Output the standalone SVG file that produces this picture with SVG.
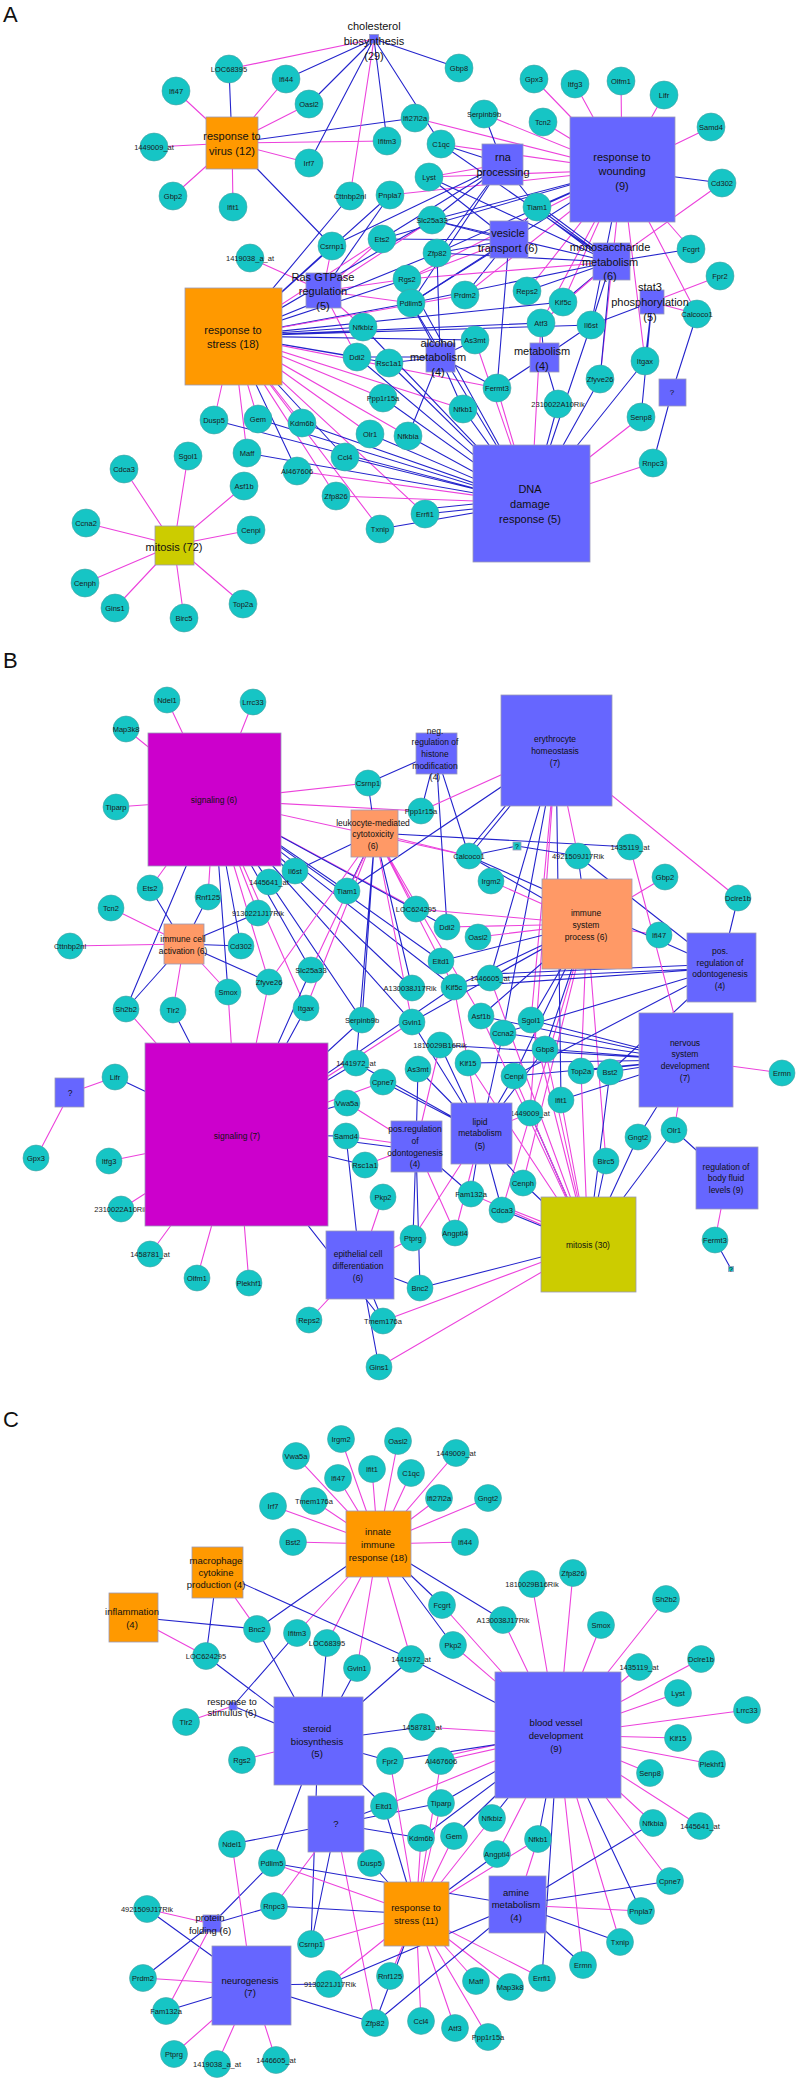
<svg xmlns="http://www.w3.org/2000/svg" width="799" height="2082" viewBox="0 0 799 2082">
<style>
.m{stroke:#ec42dc;stroke-width:1.1;fill:none}
.b{stroke:#2424cc;stroke-width:1.1;fill:none}
.g circle{fill:#16c5c5;stroke:#4aa3a3;stroke-width:.6}
.g text{font-family:"Liberation Sans",Arial,sans-serif;font-size:7.5px;fill:#1a1a1a;text-anchor:middle}
.k rect{stroke:#9a9ab8;stroke-width:.8}
.k text{font-family:"Liberation Sans",Arial,sans-serif;fill:#111;text-anchor:middle}
.pa text{font-size:11px}
.pb text{font-size:8.5px}
.pc text{font-size:9.5px}
.v rect{fill:#6666ff}
.o rect{fill:#ff9900}
.s rect{fill:#ff9966}
.p rect{fill:#cc00cc}
.y rect{fill:#cccc00}
.t rect{fill:#16c5c5}
.lab{font-family:"Liberation Sans",Arial,sans-serif;font-size:22px;fill:#111}
</style>
<rect width="799" height="2082" fill="#fff"/>
<text class="lab" x="3" y="22">A</text>
<text class="lab" x="3" y="668">B</text>
<text class="lab" x="3" y="1427">C</text>
<g id="connectors">
<path class="m" d="M232 143L176 91M232 143L286 79M232 143L309 104M232 143L154 147M232 143L309 163M232 143L173 196M232 143L233 207M232 143L387 141"/>
<path class="b" d="M232 143L229 69M232 143L332 246M232 143L415 118"/>
<path class="m" d="M374 39L229 69M374 39L350 196"/>
<path class="b" d="M374 39L286 79M374 39L309 104M374 39L309 163M374 39L387 141M374 39L459 68M374 39L441 144"/>
<path class="m" d="M622 170L534 79M622 170L575 84M622 170L621 81M622 170L664 95M622 170L711 127M622 170L543 122M622 170L691 249M622 170L415 118M622 170L484 114M622 170L441 144M622 170L429 177M622 170L390 195M622 170L407 279M622 170L527 291M622 170L563 302M622 170L541 323M622 170L645 361M622 170L697 314M622 170L600 379M622 170L465 295"/>
<path class="b" d="M622 170L722 183M622 170L537 207M622 170L432 220M622 170L437 253M622 170L382 239M622 170L591 325M622 170L411 303"/>
<path class="b" d="M503 164L441 144M503 164L484 114M503 164L432 220M503 164L437 253M503 164L332 246M503 164L382 239M503 164L411 303M503 164L537 207"/>
<path class="m" d="M503 164L429 177"/>
<path class="b" d="M509 240L432 220M509 240L437 253M509 240L429 177M509 240L382 239M509 240L411 303M509 240L537 207M509 240L497 388M509 240L465 295"/>
<path class="m" d="M509 240L407 279"/>
<path class="b" d="M611 262L537 207M611 265L537 210M611 259L537 204M611 262L441 144M611 262L429 177M611 262L432 220M611 262L691 249M611 262L563 302M611 262L591 325M611 262L527 291M611 262L437 253M611 262L411 303M611 262L600 379"/>
<path class="m" d="M611 262L407 279M611 262L722 183M611 262L541 323"/>
<path class="m" d="M652 302L720 276M652 302L697 314"/>
<path class="b" d="M652 302L591 325M652 302L641 417M652 302L645 361"/>
<path class="m" d="M323 291L250 258M323 291L332 246M323 291L382 239M323 291L407 279M323 291L411 303M323 291L363 327M323 291L432 220M323 291L357 357"/>
<path class="b" d="M323 291L390 195"/>
<path class="b" d="M233 336L332 246M233 336L350 196M233 336L407 279M233 336L411 303M233 336L437 253M233 336L363 327M233 336L357 357M233 336L389 363M233 336L345 457M233 336L297 471M233 336L475 340M233 336L541 323M233 336L432 220M233 336L390 195M233 336L591 325M233 336L563 302"/>
<path class="m" d="M233 336L382 239M233 336L383 398M233 336L370 434M233 336L214 420M233 336L258 419M233 336L302 423M233 336L247 453M233 336L336 496M233 336L380 529M233 336L408 436M233 336L425 514M233 336L463 409M233 336L497 388M233 336L465 295"/>
<path class="b" d="M440 357L475 340M440 357L463 409M440 357L408 436M440 357L497 388M440 357L389 363M440 357L411 303M440 357L357 357M440 357L437 253"/>
<path class="b" d="M544 357L497 388M544 357L558 404M544 357L541 323M544 357L591 325"/>
<path class="b" d="M531 503L463 409M531 503L408 436M531 503L425 514M531 498L425 509M531 503L558 404M531 503L600 379M531 503L645 361M531 503L591 325M531 503L380 529M531 503L345 457M531 503L370 434M531 503L302 423M531 503L258 419M531 503L247 453M531 503L383 398M531 503L389 363M531 503L357 357M531 503L363 327M531 503L407 279M531 503L411 303M531 503L214 420"/>
<path class="m" d="M531 503L497 388M531 503L641 417M531 503L653 463M531 503L297 471M531 503L336 496M531 503L541 323M531 503L475 340"/>
<path class="m" d="M174 545L188 456M174 545L124 469M174 545L244 486M174 545L86 523M174 545L251 530M174 545L85 583M174 545L115 608M174 545L184 618M174 545L243 604"/>
<path class="b" d="M672 392L697 314M672 392L653 463"/>
<path class="m" d="M214 800L167 700M214 800L253 702M214 800L126 729M214 800L116 807M214 800L368 783M214 800L150 888M214 800L208 897M214 800L269 982M214 800L258 913M214 800L306 1008M214 800L469 856M214 800L416 909M214 800L421 811"/>
<path class="b" d="M214 800L126 1009M214 800L228 992M214 800L241 946M214 800L311 970M214 800L269 882M214 800L295 871M214 800L347 891M214 800L362 1020M214 800L412 988M214 800L447 927M214 800L454 987M214 800L412 1022M214 800L441 961"/>
<path class="b" d="M375 833L347 891M375 833L295 871M375 833L362 1020M375 833L412 988M375 833L630 847M375 833L356 1063M375 833L368 783"/>
<path class="m" d="M375 833L269 982M375 833L311 970M375 833L306 1008M375 833L454 987M375 833L469 856M375 833L416 909M375 833L412 1022M375 833L481 1016"/>
<path class="m" d="M184 944L111 908M184 944L70 946M184 944L228 992M184 944L173 1010"/>
<path class="b" d="M184 944L150 888M184 944L208 897M184 944L258 913M184 944L241 946M184 944L269 982M184 944L126 1009"/>
<path class="b" d="M436 753L421 811M436 753L469 856M436 753L447 927M436 753L368 783"/>
<path class="m" d="M556 750L421 811M556 750L738 898M556 750L578 856M556 750L531 1020M556 750L530 1113"/>
<path class="b" d="M556 750L469 856M552 750L466 853M556 750L347 891M556 750L503 1033M556 750L561 1100M556 750L490 978"/>
<path class="m" d="M587 924L491 881M587 924L447 927M587 924L478 937M587 924L665 877M587 924L659 935M587 924L416 909M587 924L606 1161M587 924L523 1183M587 924L581 1071M587 924L502 1210"/>
<path class="b" d="M587 924L441 961M587 924L454 987M587 924L490 978M587 924L578 856M587 924L469 856M587 924L481 1016M587 924L531 1020M587 924L412 1022M587 924L514 1076M587 924L545 1049"/>
<path class="b" d="M721 968L738 898M721 968L490 978M721 964L490 974M721 968L454 987M721 968L578 856M721 968L469 856M721 968L503 1033M721 968L514 1076M721 968L610 1072"/>
<path class="m" d="M686 1060L782 1073M686 1060L674 1130M686 1060L630 847"/>
<path class="b" d="M686 1060L610 1072M686 1060L581 1071M686 1060L545 1049M686 1060L468 1063M686 1060L561 1100M686 1060L638 1137M686 1060L503 1033M686 1060L514 1076M686 1060L481 1016M686 1060L440 1045M686 1060L531 1020"/>
<path class="b" d="M727 1178L674 1130M715 1240L731 1269"/>
<path class="m" d="M727 1178L715 1240"/>
<path class="b" d="M517 846L469 856M517 846L578 856"/>
<path class="m" d="M481 1133L468 1063M481 1133L455 1233M481 1133L413 1238M481 1133L454 987M481 1133L530 1113"/>
<path class="b" d="M481 1133L418 1069M481 1133L440 1045M481 1133L503 1033M481 1133L514 1076M481 1133L545 1049M481 1133L523 1183M481 1133L471 1194M481 1133L502 1210M481 1133L412 1022M481 1133L356 1063M481 1133L383 1082"/>
<path class="m" d="M416 1146L347 1103M416 1146L346 1136M416 1146L365 1165M416 1146L455 1233M416 1146L440 1045"/>
<path class="b" d="M416 1150L346 1141M416 1146L418 1069M416 1146L471 1194M416 1146L413 1238M416 1146L420 1288"/>
<path class="b" d="M588 1245L523 1183M588 1245L502 1210M588 1245L606 1161M588 1245L638 1137M588 1245L674 1130M588 1245L420 1288M588 1245L530 1113M588 1245L610 1072"/>
<path class="m" d="M588 1240L502 1206M588 1245L561 1100M588 1245L545 1049M588 1245L514 1076M588 1245L581 1071M588 1245L471 1194M588 1245L379 1367M588 1245L481 1016M588 1245L531 1020M588 1245L468 1063M588 1245L490 978M588 1245L383 1321"/>
<path class="b" d="M237 1135L115 1077M237 1135L356 1063M237 1135L347 1103M237 1135L346 1136M237 1135L365 1165M237 1135L383 1321M237 1135L173 1010M237 1135L306 1008M237 1135L362 1020M237 1135L311 970M237 1135L454 987"/>
<path class="m" d="M237 1135L109 1161M237 1135L121 1209M237 1135L150 1254M237 1135L197 1278M237 1135L249 1283M237 1135L383 1082M237 1135L126 1009M237 1135L228 992M237 1135L269 982M237 1135L412 1022"/>
<path class="m" d="M70 1093L115 1077M70 1093L36 1158"/>
<path class="b" d="M360 1265L346 1136M360 1265L383 1321M360 1265L379 1367M360 1265L420 1288"/>
<path class="m" d="M360 1265L383 1197M360 1265L309 1320M360 1265L413 1238"/>
<path class="m" d="M378 1544L341 1439M378 1544L398 1441M378 1544L296 1456M378 1544L372 1469M378 1544L338 1478M378 1544L411 1473M378 1544L314 1501M378 1544L273 1506M378 1544L293 1542M378 1544L456 1453M378 1544L439 1498M378 1544L488 1498M378 1544L465 1542M378 1544L297 1633M378 1544L327 1643M378 1544L357 1668M378 1544L411 1659"/>
<path class="b" d="M378 1544L257 1629M378 1544L503 1620M378 1544L453 1645M378 1544L442 1605"/>
<path class="b" d="M217 1572L411 1659M217 1572L206 1656M133 1617L257 1629M233 1706L297 1633M233 1706L318 1741"/>
<path class="m" d="M217 1572L257 1629M133 1617L206 1656M233 1706L186 1722"/>
<path class="b" d="M318 1741L206 1656M318 1741L257 1629M318 1741L327 1643M318 1741L357 1668M318 1741L411 1659M318 1741L390 1761M318 1741L384 1806M318 1741L422 1727M318 1741L272 1863M318 1741L311 1944"/>
<path class="m" d="M318 1741L242 1760"/>
<path class="m" d="M558 1735L422 1727M558 1735L442 1605M558 1735L453 1645M558 1735L503 1620M558 1735L532 1584M558 1735L573 1573M558 1735L601 1625M558 1735L666 1599M558 1735L639 1667M558 1735L701 1659M558 1735L678 1693M558 1735L747 1710M558 1735L678 1738M558 1735L712 1764M558 1735L650 1773M558 1735L700 1826M558 1735L653 1823M558 1735L670 1881M558 1735L620 1942M558 1735L583 1965M558 1735L497 1854M558 1735L441 1761M558 1731L441 1757M558 1735L384 1806"/>
<path class="b" d="M558 1735L411 1659M558 1735L641 1911M558 1735L542 1978M558 1735L538 1839M558 1735L454 1836M558 1735L421 1838M558 1735L441 1803M558 1735L390 1761M558 1735L492 1818"/>
<path class="b" d="M336 1824L232 1844M336 1824L311 1944M336 1824L384 1806M336 1824L441 1803M336 1824L421 1838"/>
<path class="m" d="M336 1824L274 1906M336 1824L375 2023"/>
<path class="m" d="M416 1914L421 1838M416 1914L454 1836M416 1914L441 1803M416 1914L492 1818M416 1914L538 1839M416 1914L272 1863M416 1914L311 1944M416 1914L329 1984M416 1914L390 1976M416 1914L421 2021M416 1914L455 2028M416 1914L488 2037M416 1914L476 1981M416 1914L510 1987M416 1914L542 1978M416 1914L390 1761M416 1914L441 1761"/>
<path class="b" d="M416 1914L497 1854M416 1914L371 1863M416 1914L274 1906M416 1914L375 2023M416 1914L384 1806"/>
<path class="b" d="M517 1905L653 1823M517 1905L670 1881M517 1905L620 1942M517 1905L583 1965M517 1905L375 2023M517 1905L272 1863M517 1905L329 1984"/>
<path class="m" d="M517 1905L641 1911M517 1905L538 1839"/>
<path class="b" d="M212 1924L272 1863M212 1924L274 1906M212 1924L143 1978M252 1985L147 1909M252 1985L166 2011M252 1985L329 1984M252 1985L375 2023"/>
<path class="m" d="M212 1924L147 1909M212 1924L166 2011M252 1985L232 1844M252 1985L143 1978M252 1985L174 2054M252 1985L217 2064M252 1985L276 2060"/>
</g>
<g id="genesA" class="g">
<g id="a-LOC68395"><circle cx="229" cy="69" r="14"/><text x="229" y="71.7">LOC68395</text></g>
<g id="a-Ifi44"><circle cx="286" cy="79" r="14"/><text x="286" y="81.7">Ifi44</text></g>
<g id="a-Ifi47"><circle cx="176" cy="91" r="14"/><text x="176" y="93.7">Ifi47</text></g>
<g id="a-Oasl2"><circle cx="309" cy="104" r="14"/><text x="309" y="106.7">Oasl2</text></g>
<g id="a-1449009_at"><circle cx="154" cy="147" r="14"/><text x="154" y="149.7">1449009_at</text></g>
<g id="a-Ifitm3"><circle cx="387" cy="141" r="14"/><text x="387" y="143.7">Ifitm3</text></g>
<g id="a-Irf7"><circle cx="309" cy="163" r="14"/><text x="309" y="165.7">Irf7</text></g>
<g id="a-Gbp2"><circle cx="173" cy="196" r="14"/><text x="173" y="198.7">Gbp2</text></g>
<g id="a-Ifit1"><circle cx="233" cy="207" r="14"/><text x="233" y="209.7">Ifit1</text></g>
<g id="a-Cttnbp2nl"><circle cx="350" cy="196" r="14"/><text x="350" y="198.7">Cttnbp2nl</text></g>
<g id="a-Pnpla7"><circle cx="390" cy="195" r="14"/><text x="390" y="197.7">Pnpla7</text></g>
<g id="a-Csrnp1"><circle cx="332" cy="246" r="14"/><text x="332" y="248.7">Csrnp1</text></g>
<g id="a-Ets2"><circle cx="382" cy="239" r="14"/><text x="382" y="241.7">Ets2</text></g>
<g id="a-1419038_a_at"><circle cx="250" cy="258" r="14"/><text x="250" y="260.7">1419038_a_at</text></g>
<g id="a-Nfkbiz"><circle cx="363" cy="327" r="14"/><text x="363" y="329.7">Nfkbiz</text></g>
<g id="a-Gbp8"><circle cx="459" cy="68" r="14"/><text x="459" y="70.7">Gbp8</text></g>
<g id="a-Gpx3"><circle cx="534" cy="79" r="14"/><text x="534" y="81.7">Gpx3</text></g>
<g id="a-Itfg3"><circle cx="575" cy="84" r="14"/><text x="575" y="86.7">Itfg3</text></g>
<g id="a-Olfm1"><circle cx="621" cy="81" r="14"/><text x="621" y="83.7">Olfm1</text></g>
<g id="a-Lifr"><circle cx="664" cy="95" r="14"/><text x="664" y="97.7">Lifr</text></g>
<g id="a-Samd4"><circle cx="711" cy="127" r="14"/><text x="711" y="129.7">Samd4</text></g>
<g id="a-Serpinb9b"><circle cx="484" cy="114" r="14"/><text x="484" y="116.7">Serpinb9b</text></g>
<g id="a-Ifi27l2a"><circle cx="415" cy="118" r="14"/><text x="415" y="120.7">Ifi27l2a</text></g>
<g id="a-Tcn2"><circle cx="543" cy="122" r="14"/><text x="543" y="124.7">Tcn2</text></g>
<g id="a-C1qc"><circle cx="441" cy="144" r="14"/><text x="441" y="146.7">C1qc</text></g>
<g id="a-Lyst"><circle cx="429" cy="177" r="14"/><text x="429" y="179.7">Lyst</text></g>
<g id="a-Cd302"><circle cx="722" cy="183" r="14"/><text x="722" y="185.7">Cd302</text></g>
<g id="a-Tiam1"><circle cx="537" cy="207" r="14"/><text x="537" y="209.7">Tiam1</text></g>
<g id="a-Slc25a33"><circle cx="432" cy="220" r="14"/><text x="432" y="222.7">Slc25a33</text></g>
<g id="a-Zfp82"><circle cx="437" cy="253" r="14"/><text x="437" y="255.7">Zfp82</text></g>
<g id="a-Fcgrt"><circle cx="691" cy="249" r="14"/><text x="691" y="251.7">Fcgrt</text></g>
<g id="a-Fpr2"><circle cx="720" cy="276" r="14"/><text x="720" y="278.7">Fpr2</text></g>
<g id="a-Rgs2"><circle cx="407" cy="279" r="14"/><text x="407" y="281.7">Rgs2</text></g>
<g id="a-Prdm2"><circle cx="465" cy="295" r="14"/><text x="465" y="297.7">Prdm2</text></g>
<g id="a-Reps2"><circle cx="527" cy="291" r="14"/><text x="527" y="293.7">Reps2</text></g>
<g id="a-Kif5c"><circle cx="563" cy="302" r="14"/><text x="563" y="304.7">Kif5c</text></g>
<g id="a-Calcoco1"><circle cx="697" cy="314" r="14"/><text x="697" y="316.7">Calcoco1</text></g>
<g id="a-Pdlim5"><circle cx="411" cy="303" r="14"/><text x="411" y="305.7">Pdlim5</text></g>
<g id="a-Atf3"><circle cx="541" cy="323" r="14"/><text x="541" y="325.7">Atf3</text></g>
<g id="a-Il6st"><circle cx="591" cy="325" r="14"/><text x="591" y="327.7">Il6st</text></g>
<g id="a-As3mt"><circle cx="475" cy="340" r="14"/><text x="475" y="342.7">As3mt</text></g>
<g id="a-Fermt3"><circle cx="497" cy="388" r="14"/><text x="497" y="390.7">Fermt3</text></g>
<g id="a-Itgax"><circle cx="645" cy="361" r="14"/><text x="645" y="363.7">Itgax</text></g>
<g id="a-Zfyve26"><circle cx="600" cy="379" r="14"/><text x="600" y="381.7">Zfyve26</text></g>
<g id="a-2310022A10Rik"><circle cx="558" cy="404" r="14"/><text x="558" y="406.7">2310022A10Rik</text></g>
<g id="a-Senp8"><circle cx="641" cy="417" r="14"/><text x="641" y="419.7">Senp8</text></g>
<g id="a-Nfkb1"><circle cx="463" cy="409" r="14"/><text x="463" y="411.7">Nfkb1</text></g>
<g id="a-Nfkbia"><circle cx="408" cy="436" r="14"/><text x="408" y="438.7">Nfkbia</text></g>
<g id="a-Rnpc3"><circle cx="653" cy="463" r="14"/><text x="653" y="465.7">Rnpc3</text></g>
<g id="a-Errfi1"><circle cx="425" cy="514" r="14"/><text x="425" y="516.7">Errfi1</text></g>
<g id="a-Ddi2"><circle cx="357" cy="357" r="14"/><text x="357" y="359.7">Ddi2</text></g>
<g id="a-Rsc1a1"><circle cx="389" cy="363" r="14"/><text x="389" y="365.7">Rsc1a1</text></g>
<g id="a-Ppp1r15a"><circle cx="383" cy="398" r="14"/><text x="383" y="400.7">Ppp1r15a</text></g>
<g id="a-Dusp5"><circle cx="214" cy="420" r="14"/><text x="214" y="422.7">Dusp5</text></g>
<g id="a-Gem"><circle cx="258" cy="419" r="14"/><text x="258" y="421.7">Gem</text></g>
<g id="a-Kdm6b"><circle cx="302" cy="423" r="14"/><text x="302" y="425.7">Kdm6b</text></g>
<g id="a-Olr1"><circle cx="370" cy="434" r="14"/><text x="370" y="436.7">Olr1</text></g>
<g id="a-Maff"><circle cx="247" cy="453" r="14"/><text x="247" y="455.7">Maff</text></g>
<g id="a-Ccl4"><circle cx="345" cy="457" r="14"/><text x="345" y="459.7">Ccl4</text></g>
<g id="a-AI467606"><circle cx="297" cy="471" r="14"/><text x="297" y="473.7">AI467606</text></g>
<g id="a-Zfp826"><circle cx="336" cy="496" r="14"/><text x="336" y="498.7">Zfp826</text></g>
<g id="a-Txnip"><circle cx="380" cy="529" r="14"/><text x="380" y="531.7">Txnip</text></g>
<g id="a-Sgol1"><circle cx="188" cy="456" r="14"/><text x="188" y="458.7">Sgol1</text></g>
<g id="a-Cdca3"><circle cx="124" cy="469" r="14"/><text x="124" y="471.7">Cdca3</text></g>
<g id="a-Asf1b"><circle cx="244" cy="486" r="14"/><text x="244" y="488.7">Asf1b</text></g>
<g id="a-Ccna2"><circle cx="86" cy="523" r="14"/><text x="86" y="525.7">Ccna2</text></g>
<g id="a-Cenpi"><circle cx="251" cy="530" r="14"/><text x="251" y="532.7">Cenpi</text></g>
<g id="a-Cenph"><circle cx="85" cy="583" r="14"/><text x="85" y="585.7">Cenph</text></g>
<g id="a-Gins1"><circle cx="115" cy="608" r="14"/><text x="115" y="610.7">Gins1</text></g>
<g id="a-Birc5"><circle cx="184" cy="618" r="14"/><text x="184" y="620.7">Birc5</text></g>
<g id="a-Top2a"><circle cx="243" cy="604" r="14"/><text x="243" y="606.7">Top2a</text></g>
</g>
<g id="catsA" class="k pa">
<g id="a-cholesterol" class="v"><rect x="369.5" y="34.5" width="9" height="9"/><text x="374" y="30">cholesterol</text><text x="374" y="45">biosynthesis</text><text x="374" y="60">(29)</text></g>
<g id="a-virus" class="o"><rect x="206" y="117" width="52" height="52"/><text x="232" y="140">response to</text><text x="232" y="155">virus (12)</text></g>
<g id="a-wounding" class="v"><rect x="570" y="117" width="105" height="105"/><text x="622" y="161">response to</text><text x="622" y="175">wounding</text><text x="622" y="190">(9)</text></g>
<g id="a-rna" class="v"><rect x="482" y="144" width="41" height="41"/><text x="503" y="161">rna</text><text x="503" y="176">processing</text></g>
<g id="a-vesicle" class="v"><rect x="490" y="221" width="38" height="37"/><text x="508" y="237">vesicle</text><text x="508" y="252">transport (6)</text></g>
<g id="a-mono" class="v"><rect x="593" y="243" width="37" height="37"/><text x="610" y="251">monosaccharide</text><text x="610" y="266">metabolism</text><text x="610" y="280">(6)</text></g>
<g id="a-stat3" class="v"><rect x="640" y="290" width="24" height="24"/><text x="650" y="291">stat3</text><text x="650" y="306">phosphorylation</text><text x="650" y="321">(5)</text></g>
<g id="a-ras" class="v"><rect x="306" y="273" width="35" height="35"/><text x="323" y="281">Ras GTPase</text><text x="323" y="295">regulation</text><text x="323" y="310">(5)</text></g>
<g id="a-stress" class="o"><rect x="185" y="288" width="97" height="97"/><text x="233" y="334">response to</text><text x="233" y="348">stress (18)</text></g>
<g id="a-alcohol" class="v"><rect x="426" y="343" width="29" height="29"/><text x="438" y="347">alcohol</text><text x="438" y="361">metabolism</text><text x="438" y="376">(4)</text></g>
<g id="a-metab" class="v"><rect x="530" y="343" width="29" height="29"/><text x="542" y="355">metabolism</text><text x="542" y="370">(4)</text></g>
<g id="a-q" class="v"><rect x="659" y="379" width="27" height="27"/><text x="672" y="395" style="font-size:8px">?</text></g>
<g id="a-dna" class="v"><rect x="473" y="445" width="117" height="117"/><text x="530" y="493">DNA</text><text x="530" y="508">damage</text><text x="530" y="523">response (5)</text></g>
<g id="a-mitosis" class="y"><rect x="155" y="526" width="39" height="39"/><text x="174" y="551">mitosis (72)</text></g>
</g>
<g id="genesB" class="g">
<g id="b-Ndel1"><circle cx="167" cy="700" r="13"/><text x="167" y="702.7">Ndel1</text></g>
<g id="b-Lrrc33"><circle cx="253" cy="702" r="13"/><text x="253" y="704.7">Lrrc33</text></g>
<g id="b-Map3k8"><circle cx="126" cy="729" r="13"/><text x="126" y="731.7">Map3k8</text></g>
<g id="b-Csrnp1"><circle cx="368" cy="783" r="13"/><text x="368" y="785.7">Csrnp1</text></g>
<g id="b-Tiparp"><circle cx="116" cy="807" r="13"/><text x="116" y="809.7">Tiparp</text></g>
<g id="b-Il6st"><circle cx="295" cy="871" r="13"/><text x="295" y="873.7">Il6st</text></g>
<g id="b-1445641_at"><circle cx="269" cy="882" r="13"/><text x="269" y="884.7">1445641_at</text></g>
<g id="b-Ets2"><circle cx="150" cy="888" r="13"/><text x="150" y="890.7">Ets2</text></g>
<g id="b-Tiam1"><circle cx="347" cy="891" r="13"/><text x="347" y="893.7">Tiam1</text></g>
<g id="b-Rnf125"><circle cx="208" cy="897" r="13"/><text x="208" y="899.7">Rnf125</text></g>
<g id="b-Tcn2"><circle cx="111" cy="908" r="13"/><text x="111" y="910.7">Tcn2</text></g>
<g id="b-9130221J17Rik"><circle cx="258" cy="913" r="13"/><text x="258" y="915.7">9130221J17Rik</text></g>
<g id="b-Cttnbp2nl"><circle cx="70" cy="946" r="13"/><text x="70" y="948.7">Cttnbp2nl</text></g>
<g id="b-Cd302"><circle cx="241" cy="946" r="13"/><text x="241" y="948.7">Cd302</text></g>
<g id="b-Slc25a33"><circle cx="311" cy="970" r="13"/><text x="311" y="972.7">Slc25a33</text></g>
<g id="b-Zfyve26"><circle cx="269" cy="982" r="13"/><text x="269" y="984.7">Zfyve26</text></g>
<g id="b-Smox"><circle cx="228" cy="992" r="13"/><text x="228" y="994.7">Smox</text></g>
<g id="b-Sh2b2"><circle cx="126" cy="1009" r="13"/><text x="126" y="1011.7">Sh2b2</text></g>
<g id="b-Tlr2"><circle cx="173" cy="1010" r="13"/><text x="173" y="1012.7">Tlr2</text></g>
<g id="b-Itgax"><circle cx="306" cy="1008" r="13"/><text x="306" y="1010.7">Itgax</text></g>
<g id="b-Serpinb9b"><circle cx="362" cy="1020" r="13"/><text x="362" y="1022.7">Serpinb9b</text></g>
<g id="b-A130038J17Rik"><circle cx="412" cy="988" r="13"/><text x="410" y="990.7">A130038J17Rik</text></g>
<g id="b-Ppp1r15a"><circle cx="421" cy="811" r="13"/><text x="421" y="813.7">Ppp1r15a</text></g>
<g id="b-Calcoco1"><circle cx="469" cy="856" r="13"/><text x="469" y="858.7">Calcoco1</text></g>
<g id="b-4921509J17Rik"><circle cx="578" cy="856" r="13"/><text x="578" y="858.7">4921509J17Rik</text></g>
<g id="b-1435119_at"><circle cx="630" cy="847" r="13"/><text x="630" y="849.7">1435119_at</text></g>
<g id="b-Gbp2"><circle cx="665" cy="877" r="13"/><text x="665" y="879.7">Gbp2</text></g>
<g id="b-Irgm2"><circle cx="491" cy="881" r="13"/><text x="491" y="883.7">Irgm2</text></g>
<g id="b-Dclre1b"><circle cx="738" cy="898" r="13"/><text x="738" y="900.7">Dclre1b</text></g>
<g id="b-LOC624295"><circle cx="416" cy="909" r="13"/><text x="416" y="911.7">LOC624295</text></g>
<g id="b-Ddi2"><circle cx="447" cy="927" r="13"/><text x="447" y="929.7">Ddi2</text></g>
<g id="b-Oasl2"><circle cx="478" cy="937" r="13"/><text x="478" y="939.7">Oasl2</text></g>
<g id="b-Ifi47"><circle cx="659" cy="935" r="13"/><text x="659" y="937.7">Ifi47</text></g>
<g id="b-Eltd1"><circle cx="441" cy="961" r="13"/><text x="441" y="963.7">Eltd1</text></g>
<g id="b-1446605_at"><circle cx="490" cy="978" r="13"/><text x="490" y="980.7">1446605_at</text></g>
<g id="b-Kif5c"><circle cx="454" cy="987" r="13"/><text x="454" y="989.7">Kif5c</text></g>
<g id="b-Gvin1"><circle cx="412" cy="1022" r="13"/><text x="412" y="1024.7">Gvin1</text></g>
<g id="b-Asf1b"><circle cx="481" cy="1016" r="13"/><text x="481" y="1018.7">Asf1b</text></g>
<g id="b-Sgol1"><circle cx="531" cy="1020" r="13"/><text x="531" y="1022.7">Sgol1</text></g>
<g id="b-Ccna2"><circle cx="503" cy="1033" r="13"/><text x="503" y="1035.7">Ccna2</text></g>
<g id="b-1810029B16Rik"><circle cx="440" cy="1045" r="13"/><text x="440" y="1047.7">1810029B16Rik</text></g>
<g id="b-Gbp8"><circle cx="545" cy="1049" r="13"/><text x="545" y="1051.7">Gbp8</text></g>
<g id="b-Klf15"><circle cx="468" cy="1063" r="13"/><text x="468" y="1065.7">Klf15</text></g>
<g id="b-As3mt"><circle cx="418" cy="1069" r="13"/><text x="418" y="1071.7">As3mt</text></g>
<g id="b-Top2a"><circle cx="581" cy="1071" r="13"/><text x="581" y="1073.7">Top2a</text></g>
<g id="b-Bst2"><circle cx="610" cy="1072" r="13"/><text x="610" y="1074.7">Bst2</text></g>
<g id="b-Cenpi"><circle cx="514" cy="1076" r="13"/><text x="514" y="1078.7">Cenpi</text></g>
<g id="b-Ermn"><circle cx="782" cy="1073" r="13"/><text x="782" y="1075.7">Ermn</text></g>
<g id="b-Ifit1"><circle cx="561" cy="1100" r="13"/><text x="561" y="1102.7">Ifit1</text></g>
<g id="b-1449009_at"><circle cx="530" cy="1113" r="13"/><text x="530" y="1115.7">1449009_at</text></g>
<g id="b-Gngt2"><circle cx="638" cy="1137" r="13"/><text x="638" y="1139.7">Gngt2</text></g>
<g id="b-Olr1"><circle cx="674" cy="1130" r="13"/><text x="674" y="1132.7">Olr1</text></g>
<g id="b-Birc5"><circle cx="606" cy="1161" r="13"/><text x="606" y="1163.7">Birc5</text></g>
<g id="b-Cenph"><circle cx="523" cy="1183" r="13"/><text x="523" y="1185.7">Cenph</text></g>
<g id="b-Fam132a"><circle cx="471" cy="1194" r="13"/><text x="471" y="1196.7">Fam132a</text></g>
<g id="b-Cdca3"><circle cx="502" cy="1210" r="13"/><text x="502" y="1212.7">Cdca3</text></g>
<g id="b-Ptprg"><circle cx="413" cy="1238" r="13"/><text x="413" y="1240.7">Ptprg</text></g>
<g id="b-Angptl4"><circle cx="455" cy="1233" r="13"/><text x="455" y="1235.7">Angptl4</text></g>
<g id="b-Fermt3"><circle cx="715" cy="1240" r="13"/><text x="715" y="1242.7">Fermt3</text></g>
<g id="b-Bnc2"><circle cx="420" cy="1288" r="13"/><text x="420" y="1290.7">Bnc2</text></g>
<g id="b-1441972_at"><circle cx="356" cy="1063" r="13"/><text x="356" y="1065.7">1441972_at</text></g>
<g id="b-Lifr"><circle cx="115" cy="1077" r="13"/><text x="115" y="1079.7">Lifr</text></g>
<g id="b-Cpne7"><circle cx="383" cy="1082" r="13"/><text x="383" y="1084.7">Cpne7</text></g>
<g id="b-Vwa5a"><circle cx="347" cy="1103" r="13"/><text x="347" y="1105.7">Vwa5a</text></g>
<g id="b-Samd4"><circle cx="346" cy="1136" r="13"/><text x="346" y="1138.7">Samd4</text></g>
<g id="b-Gpx3"><circle cx="36" cy="1158" r="13"/><text x="36" y="1160.7">Gpx3</text></g>
<g id="b-Itfg3"><circle cx="109" cy="1161" r="13"/><text x="109" y="1163.7">Itfg3</text></g>
<g id="b-Rsc1a1"><circle cx="365" cy="1165" r="13"/><text x="365" y="1167.7">Rsc1a1</text></g>
<g id="b-Pkp2"><circle cx="383" cy="1197" r="13"/><text x="383" y="1199.7">Pkp2</text></g>
<g id="b-2310022A10Rik"><circle cx="121" cy="1209" r="13"/><text x="121" y="1211.7">2310022A10Rik</text></g>
<g id="b-1458781_at"><circle cx="150" cy="1254" r="13"/><text x="150" y="1256.7">1458781_at</text></g>
<g id="b-Olfm1"><circle cx="197" cy="1278" r="13"/><text x="197" y="1280.7">Olfm1</text></g>
<g id="b-Plekhf1"><circle cx="249" cy="1283" r="13"/><text x="249" y="1285.7">Plekhf1</text></g>
<g id="b-Reps2"><circle cx="309" cy="1320" r="13"/><text x="309" y="1322.7">Reps2</text></g>
<g id="b-Tmem176a"><circle cx="383" cy="1321" r="13"/><text x="383" y="1323.7">Tmem176a</text></g>
<g id="b-Gins1"><circle cx="379" cy="1367" r="13"/><text x="379" y="1369.7">Gins1</text></g>
</g>
<g id="catsB" class="k pb">
<g id="b-signaling6" class="p"><rect x="148" y="733" width="133" height="133"/><text x="214" y="803">signaling (6)</text></g>
<g id="b-leukocyte" class="s"><rect x="351" y="810" width="47" height="47"/><text x="373" y="826">leukocyte-mediated</text><text x="373" y="837">cytotoxicity</text><text x="373" y="849">(6)</text></g>
<g id="b-immunecell" class="s"><rect x="164" y="924" width="40" height="40"/><text x="183" y="942">immune cell</text><text x="183" y="954">activation (6)</text></g>
<g id="b-negreg" class="v"><rect x="416" y="733" width="41" height="41"/><text x="435" y="734">neg.</text><text x="435" y="745">regulation of</text><text x="435" y="757">histone</text><text x="435" y="769">modification</text><text x="435" y="780">(4)</text></g>
<g id="b-erythrocyte" class="v"><rect x="501" y="695" width="111" height="111"/><text x="555" y="742">erythrocyte</text><text x="555" y="754">homeostasis</text><text x="555" y="766">(7)</text></g>
<g id="b-isp" class="s"><rect x="542" y="879" width="90" height="90"/><text x="586" y="916">immune</text><text x="586" y="928">system</text><text x="586" y="940">process (6)</text></g>
<g id="b-posodo" class="v"><rect x="687" y="933" width="69" height="69"/><text x="720" y="954">pos.</text><text x="720" y="966">regulation of</text><text x="720" y="977">odontogenesis</text><text x="720" y="989">(4)</text></g>
<g id="b-nervous" class="v"><rect x="639" y="1013" width="94" height="94"/><text x="685" y="1046">nervous</text><text x="685" y="1057">system</text><text x="685" y="1069">development</text><text x="685" y="1081">(7)</text></g>
<g id="b-signaling7" class="p"><rect x="145" y="1043" width="183" height="183"/><text x="237" y="1139">signaling (7)</text></g>
<g id="b-q1" class="v"><rect x="55" y="1078" width="29" height="29"/><text x="70" y="1096">?</text></g>
<g id="b-posreg" class="v"><rect x="391" y="1121" width="51" height="51"/><text x="415" y="1132">pos.regulation</text><text x="415" y="1144">of</text><text x="415" y="1156">odontogenesis</text><text x="415" y="1167">(4)</text></g>
<g id="b-lipid" class="v"><rect x="451" y="1103" width="61" height="61"/><text x="480" y="1125">lipid</text><text x="480" y="1136">metabolism</text><text x="480" y="1149">(5)</text></g>
<g id="b-bodyfluid" class="v"><rect x="696" y="1147" width="62" height="62"/><text x="726" y="1170">regulation of</text><text x="726" y="1181">body fluid</text><text x="726" y="1193">levels (9)</text></g>
<g id="b-mitosis" class="y"><rect x="541" y="1197" width="95" height="95"/><text x="588" y="1248">mitosis (30)</text></g>
<g id="b-epithelial" class="v"><rect x="326" y="1231" width="68" height="68"/><text x="358" y="1257">epithelial cell</text><text x="358" y="1269">differentiation</text><text x="358" y="1281">(6)</text></g>
<g id="b-q2" class="t"><rect x="513" y="842" width="8" height="8"/><text x="517" y="849" style="font-size:7px">?</text></g>
<g id="b-q3" class="t"><rect x="728.5" y="1266.5" width="5" height="5"/><text x="731" y="1272" style="font-size:7px">?</text></g>
</g>
<g id="genesC" class="g">
<g id="c-Irgm2"><circle cx="341" cy="1439" r="13.5"/><text x="341" y="1441.7">Irgm2</text></g>
<g id="c-Oasl2"><circle cx="398" cy="1441" r="13.5"/><text x="398" y="1443.7">Oasl2</text></g>
<g id="c-Vwa5a"><circle cx="296" cy="1456" r="13.5"/><text x="296" y="1458.7">Vwa5a</text></g>
<g id="c-Ifit1"><circle cx="372" cy="1469" r="13.5"/><text x="372" y="1471.7">Ifit1</text></g>
<g id="c-C1qc"><circle cx="411" cy="1473" r="13.5"/><text x="411" y="1475.7">C1qc</text></g>
<g id="c-Ifi47"><circle cx="338" cy="1478" r="13.5"/><text x="338" y="1480.7">Ifi47</text></g>
<g id="c-Tmem176a"><circle cx="314" cy="1501" r="13.5"/><text x="314" y="1503.7">Tmem176a</text></g>
<g id="c-Irf7"><circle cx="273" cy="1506" r="13.5"/><text x="273" y="1508.7">Irf7</text></g>
<g id="c-Bst2"><circle cx="293" cy="1542" r="13.5"/><text x="293" y="1544.7">Bst2</text></g>
<g id="c-1449009_at"><circle cx="456" cy="1453" r="13.5"/><text x="456" y="1455.7">1449009_at</text></g>
<g id="c-Ifi27l2a"><circle cx="439" cy="1498" r="13.5"/><text x="439" y="1500.7">Ifi27l2a</text></g>
<g id="c-Gngt2"><circle cx="488" cy="1498" r="13.5"/><text x="488" y="1500.7">Gngt2</text></g>
<g id="c-Ifi44"><circle cx="465" cy="1542" r="13.5"/><text x="465" y="1544.7">Ifi44</text></g>
<g id="c-Bnc2"><circle cx="257" cy="1629" r="13.5"/><text x="257" y="1631.7">Bnc2</text></g>
<g id="c-Ifitm3"><circle cx="297" cy="1633" r="13.5"/><text x="297" y="1635.7">Ifitm3</text></g>
<g id="c-LOC68395"><circle cx="327" cy="1643" r="13.5"/><text x="327" y="1645.7">LOC68395</text></g>
<g id="c-LOC624295"><circle cx="206" cy="1656" r="13.5"/><text x="206" y="1658.7">LOC624295</text></g>
<g id="c-Gvin1"><circle cx="357" cy="1668" r="13.5"/><text x="357" y="1670.7">Gvin1</text></g>
<g id="c-1441972_at"><circle cx="411" cy="1659" r="13.5"/><text x="411" y="1661.7">1441972_at</text></g>
<g id="c-Tlr2"><circle cx="186" cy="1722" r="13.5"/><text x="186" y="1724.7">Tlr2</text></g>
<g id="c-Zfp826"><circle cx="573" cy="1573" r="13.5"/><text x="573" y="1575.7">Zfp826</text></g>
<g id="c-1810029B16Rik"><circle cx="532" cy="1584" r="13.5"/><text x="532" y="1586.7">1810029B16Rik</text></g>
<g id="c-Sh2b2"><circle cx="666" cy="1599" r="13.5"/><text x="666" y="1601.7">Sh2b2</text></g>
<g id="c-Fcgrt"><circle cx="442" cy="1605" r="13.5"/><text x="442" y="1607.7">Fcgrt</text></g>
<g id="c-A130038J17Rik"><circle cx="503" cy="1620" r="13.5"/><text x="503" y="1622.7">A130038J17Rik</text></g>
<g id="c-Smox"><circle cx="601" cy="1625" r="13.5"/><text x="601" y="1627.7">Smox</text></g>
<g id="c-Pkp2"><circle cx="453" cy="1645" r="13.5"/><text x="453" y="1647.7">Pkp2</text></g>
<g id="c-1435119_at"><circle cx="639" cy="1667" r="13.5"/><text x="639" y="1669.7">1435119_at</text></g>
<g id="c-Dclre1b"><circle cx="701" cy="1659" r="13.5"/><text x="701" y="1661.7">Dclre1b</text></g>
<g id="c-Lyst"><circle cx="678" cy="1693" r="13.5"/><text x="678" y="1695.7">Lyst</text></g>
<g id="c-Lrrc33"><circle cx="747" cy="1710" r="13.5"/><text x="747" y="1712.7">Lrrc33</text></g>
<g id="c-1458781_at"><circle cx="422" cy="1727" r="13.5"/><text x="422" y="1729.7">1458781_at</text></g>
<g id="c-Klf15"><circle cx="678" cy="1738" r="13.5"/><text x="678" y="1740.7">Klf15</text></g>
<g id="c-Rgs2"><circle cx="242" cy="1760" r="13.5"/><text x="242" y="1762.7">Rgs2</text></g>
<g id="c-Fpr2"><circle cx="390" cy="1761" r="13.5"/><text x="390" y="1763.7">Fpr2</text></g>
<g id="c-Eltd1"><circle cx="384" cy="1806" r="13.5"/><text x="384" y="1808.7">Eltd1</text></g>
<g id="c-Ndel1"><circle cx="232" cy="1844" r="13.5"/><text x="232" y="1846.7">Ndel1</text></g>
<g id="c-Pdlim5"><circle cx="272" cy="1863" r="13.5"/><text x="272" y="1865.7">Pdlim5</text></g>
<g id="c-Dusp5"><circle cx="371" cy="1863" r="13.5"/><text x="371" y="1865.7">Dusp5</text></g>
<g id="c-Rnpc3"><circle cx="274" cy="1906" r="13.5"/><text x="274" y="1908.7">Rnpc3</text></g>
<g id="c-4921509J17Rik"><circle cx="147" cy="1909" r="13.5"/><text x="147" y="1911.7">4921509J17Rik</text></g>
<g id="c-Csrnp1"><circle cx="311" cy="1944" r="13.5"/><text x="311" y="1946.7">Csrnp1</text></g>
<g id="c-Rnf125"><circle cx="390" cy="1976" r="13.5"/><text x="390" y="1978.7">Rnf125</text></g>
<g id="c-Prdm2"><circle cx="143" cy="1978" r="13.5"/><text x="143" y="1980.7">Prdm2</text></g>
<g id="c-9130221J17Rik"><circle cx="329" cy="1984" r="13.5"/><text x="330" y="1986.7">9130221J17Rik</text></g>
<g id="c-Fam132a"><circle cx="166" cy="2011" r="13.5"/><text x="166" y="2013.7">Fam132a</text></g>
<g id="c-Zfp82"><circle cx="375" cy="2023" r="13.5"/><text x="375" y="2025.7">Zfp82</text></g>
<g id="c-Ptprg"><circle cx="174" cy="2054" r="13.5"/><text x="174" y="2056.7">Ptprg</text></g>
<g id="c-1419038_a_at"><circle cx="217" cy="2064" r="13.5"/><text x="217" y="2066.7">1419038_a_at</text></g>
<g id="c-1446605_at"><circle cx="276" cy="2060" r="13.5"/><text x="276" y="2062.7">1446605_at</text></g>
<g id="c-Plekhf1"><circle cx="712" cy="1764" r="13.5"/><text x="712" y="1766.7">Plekhf1</text></g>
<g id="c-AI467606"><circle cx="441" cy="1761" r="13.5"/><text x="441" y="1763.7">AI467606</text></g>
<g id="c-Senp8"><circle cx="650" cy="1773" r="13.5"/><text x="650" y="1775.7">Senp8</text></g>
<g id="c-Tiparp"><circle cx="441" cy="1803" r="13.5"/><text x="441" y="1805.7">Tiparp</text></g>
<g id="c-Nfkbiz"><circle cx="492" cy="1818" r="13.5"/><text x="492" y="1820.7">Nfkbiz</text></g>
<g id="c-Nfkbia"><circle cx="653" cy="1823" r="13.5"/><text x="653" y="1825.7">Nfkbia</text></g>
<g id="c-1445641_at"><circle cx="700" cy="1826" r="13.5"/><text x="700" y="1828.7">1445641_at</text></g>
<g id="c-Kdm6b"><circle cx="421" cy="1838" r="13.5"/><text x="421" y="1840.7">Kdm6b</text></g>
<g id="c-Gem"><circle cx="454" cy="1836" r="13.5"/><text x="454" y="1838.7">Gem</text></g>
<g id="c-Nfkb1"><circle cx="538" cy="1839" r="13.5"/><text x="538" y="1841.7">Nfkb1</text></g>
<g id="c-Angptl4"><circle cx="497" cy="1854" r="13.5"/><text x="497" y="1856.7">Angptl4</text></g>
<g id="c-Cpne7"><circle cx="670" cy="1881" r="13.5"/><text x="670" y="1883.7">Cpne7</text></g>
<g id="c-Pnpla7"><circle cx="641" cy="1911" r="13.5"/><text x="641" y="1913.7">Pnpla7</text></g>
<g id="c-Txnip"><circle cx="620" cy="1942" r="13.5"/><text x="620" y="1944.7">Txnip</text></g>
<g id="c-Ermn"><circle cx="583" cy="1965" r="13.5"/><text x="583" y="1967.7">Ermn</text></g>
<g id="c-Errfi1"><circle cx="542" cy="1978" r="13.5"/><text x="542" y="1980.7">Errfi1</text></g>
<g id="c-Maff"><circle cx="476" cy="1981" r="13.5"/><text x="476" y="1983.7">Maff</text></g>
<g id="c-Map3k8"><circle cx="510" cy="1987" r="13.5"/><text x="510" y="1989.7">Map3k8</text></g>
<g id="c-Ccl4"><circle cx="421" cy="2021" r="13.5"/><text x="421" y="2023.7">Ccl4</text></g>
<g id="c-Atf3"><circle cx="455" cy="2028" r="13.5"/><text x="455" y="2030.7">Atf3</text></g>
<g id="c-Ppp1r15a"><circle cx="488" cy="2037" r="13.5"/><text x="488" y="2039.7">Ppp1r15a</text></g>
</g>
<g id="catsC" class="k pc">
<g id="c-innate" class="o"><rect x="346" y="1511" width="65" height="66"/><text x="378" y="1535">innate</text><text x="378" y="1548">immune</text><text x="378" y="1561">response (18)</text></g>
<g id="c-macrophage" class="o"><rect x="192" y="1547" width="51" height="51"/><text x="216" y="1564">macrophage</text><text x="216" y="1576">cytokine</text><text x="216" y="1588">production (4)</text></g>
<g id="c-inflammation" class="o"><rect x="109" y="1593" width="49" height="49"/><text x="132" y="1615">inflammation</text><text x="132" y="1628">(4)</text></g>
<g id="c-stimulus" class="v"><rect x="229" y="1702" width="8" height="8"/><text x="232" y="1705">response to</text><text x="232" y="1716">stimulus (6)</text></g>
<g id="c-steroid" class="v"><rect x="274" y="1697" width="89" height="88"/><text x="317" y="1732">steroid</text><text x="317" y="1745">biosynthesis</text><text x="317" y="1757">(5)</text></g>
<g id="c-bloodvessel" class="v"><rect x="495" y="1672" width="126" height="126"/><text x="556" y="1726">blood vessel</text><text x="556" y="1739">development</text><text x="556" y="1752">(9)</text></g>
<g id="c-q" class="v"><rect x="308" y="1796" width="56" height="56"/><text x="336" y="1827">?</text></g>
<g id="c-stress" class="o"><rect x="384" y="1882" width="65" height="64"/><text x="416" y="1911">response to</text><text x="416" y="1924">stress (11)</text></g>
<g id="c-folding" class="v"><rect x="203" y="1915" width="18" height="17"/><text x="210" y="1921">protein</text><text x="210" y="1934">folding (6)</text></g>
<g id="c-neurogenesis" class="v"><rect x="212" y="1946" width="79" height="79"/><text x="250" y="1984">neurogenesis</text><text x="250" y="1996">(7)</text></g>
<g id="c-amine" class="v"><rect x="489" y="1876" width="57" height="57"/><text x="516" y="1896">amine</text><text x="516" y="1908">metabolism</text><text x="516" y="1921">(4)</text></g>
</g>
</svg>
